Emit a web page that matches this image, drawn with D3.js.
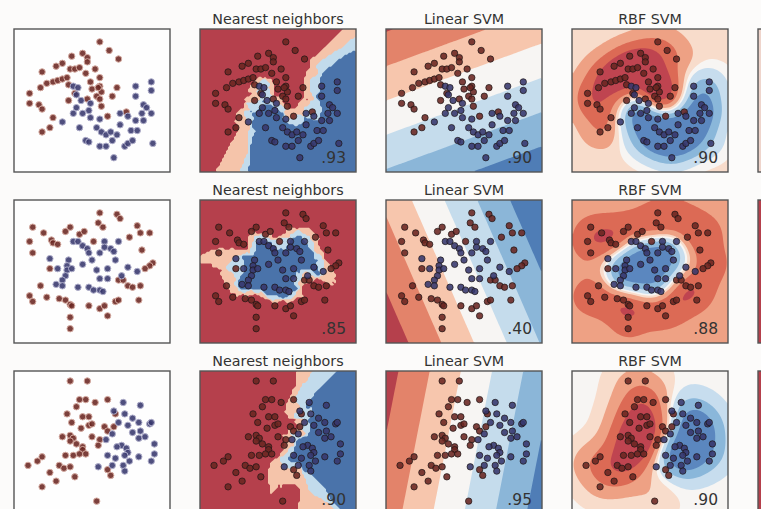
<!DOCTYPE html>
<html>
<head>
<meta charset="utf-8">
<script src="https://cdn.jsdelivr.net/npm/d3@7"></script>
<style>
  body { margin: 0; background: #fcfbfa; }
  svg { display: block; font-family: "DejaVu Sans", sans-serif; }
</style>
</head>
<body>
<svg width="761" height="509"></svg>
<script>
// points, unit box 0..10 (x right, y up)
const moonsRed = [[5.5,9.1],[6.1,8.5],[6.7,7.9],[4.4,8.3],[4.7,8.0],[4.7,7.7],[3.7,8.1],[3.1,7.6],[2.7,7.4],[3.6,7.2],[3.9,7.2],[4.2,7.3],[4.6,6.9],[5.2,7.2],[1.8,7.0],[5.5,6.6],[5.5,6.0],[6.6,5.9],[2.1,6.2],[2.5,6.3],[2.8,6.4],[3.1,6.5],[3.4,6.6],[5.0,5.8],[5.6,5.6],[5.3,5.3],[5.5,5.1],[5.6,4.6],[1.0,5.5],[1.0,4.8],[1.6,4.7],[1.8,4.4],[3.5,5.0],[3.9,5.5],[2.5,3.8],[2.3,3.1],[1.8,2.8],[6.0,3.9],[7.2,4.2],[6.3,5.3],[4.7,5.1],[3.5,6.1],[5.4,5.9],[1.7,5.9],[4.9,6.3]];
const moonsBlue = [[3.8,6.0],[4.1,5.9],[7.8,6.0],[8.8,6.3],[8.8,5.7],[7.8,5.3],[4.0,5.4],[4.3,5.0],[4.0,4.5],[3.8,4.1],[4.4,4.1],[4.9,4.8],[4.8,4.3],[4.9,3.8],[5.5,3.7],[4.2,3.1],[5.3,3.1],[5.6,2.8],[5.9,2.6],[6.2,2.8],[3.1,3.5],[8.3,4.7],[8.5,4.5],[8.8,4.1],[8.2,4.1],[7.3,3.9],[7.8,3.6],[7.5,2.9],[6.8,3.3],[6.6,2.6],[6.3,2.2],[4.6,2.2],[4.8,2.1],[5.5,1.8],[5.9,1.8],[7.1,1.8],[7.3,2.0],[7.6,2.2],[8.9,2.0],[6.4,1.0],[7.9,2.9],[8.3,3.6],[6.8,4.1]];

const circlesRed = [[5.5,9.1],[6.6,9.0],[6.8,8.7],[5.4,8.4],[5.7,8.1],[1.2,8.1],[1.9,7.7],[3.6,8.1],[3.3,7.8],[4.2,7.6],[4.5,7.8],[2.4,7.2],[2.5,7.0],[2.8,6.9],[1.0,7.1],[1.2,6.3],[5.1,7.1],[7.4,7.4],[7.9,8.2],[8.1,7.7],[8.7,7.7],[8.2,6.5],[8.9,5.6],[8.7,5.4],[8.4,5.2],[2.3,5.2],[6.7,4.4],[7.0,4.4],[7.3,4.0],[7.6,3.9],[8.1,4.0],[1.7,4.0],[1.0,3.3],[1.2,2.9],[2.1,3.2],[2.9,3.1],[3.3,3.0],[3.6,2.7],[3.7,2.6],[4.8,2.6],[5.5,2.4],[5.8,2.6],[6.5,2.9],[6.7,3.0],[6.0,1.9],[8.0,3.0],[3.6,1.8],[3.6,1.0]];
const circlesBlue = [[3.8,7.1],[4.1,7.1],[4.4,6.8],[4.7,6.6],[4.8,6.3],[5.8,7.1],[5.8,6.7],[6.2,6.6],[6.4,6.4],[6.7,7.1],[5.5,6.3],[2.3,5.9],[3.5,5.8],[3.4,5.4],[3.4,5.1],[3.3,4.7],[3.1,4.4],[2.8,5.2],[3.7,5.2],[2.7,4.1],[3.1,4.0],[4.1,3.9],[5.0,5.8],[5.3,5.1],[6.0,5.2],[5.5,4.5],[4.8,3.9],[5.1,3.7],[5.5,3.7],[5.7,3.6],[6.9,4.7],[7.3,5.3],[7.9,5.0],[6.0,4.5],[6.5,5.8],[4.4,5.5]];

const linearRed = [[3.6,9.3],[4.7,9.3],[4.2,8.0],[4.6,8.0],[6.0,8.0],[5.2,7.8],[4.0,7.5],[3.4,7.0],[4.4,6.8],[4.8,6.8],[3.7,6.4],[4.3,6.0],[4.8,6.2],[5.0,6.3],[5.8,6.1],[6.0,5.8],[6.4,6.1],[6.5,7.0],[3.1,5.4],[3.6,5.5],[3.8,5.3],[3.6,5.1],[4.0,4.9],[5.0,5.4],[5.5,5.2],[5.4,4.8],[4.4,4.7],[4.4,4.5],[4.2,4.2],[3.8,4.1],[3.3,4.1],[4.6,4.2],[1.8,4.0],[1.5,3.7],[0.9,3.4],[2.9,3.4],[3.2,3.2],[3.6,3.3],[2.3,2.9],[2.7,2.3],[1.8,1.9],[3.9,2.6],[5.3,0.9],[6.0,3.1],[6.2,2.7]];
const linearBlue = [[7.0,7.8],[8.1,7.6],[6.4,7.2],[7.1,7.0],[7.6,6.7],[6.7,6.4],[7.3,6.2],[8.0,6.4],[8.7,6.3],[8.8,6.4],[7.6,5.7],[8.1,5.8],[8.0,5.3],[8.4,5.4],[6.3,5.6],[5.9,5.2],[6.9,4.8],[7.2,4.6],[6.6,4.7],[7.3,4.3],[9.0,4.9],[9.0,4.2],[8.8,3.7],[8.0,4.0],[6.0,4.1],[6.5,3.9],[7.1,4.1],[5.4,3.3],[7.0,3.4],[7.1,3.0],[6.3,3.4],[7.4,3.7]];

const titles = ["", "Nearest neighbors", "Linear SVM", "RBF SVM"];
// scores per row: nearest neighbors, linear svm, rbf svm
const scores = [[".93", ".90", ".90"], [".85", ".40", ".88"], [".90", ".95", ".90"]];
// linear svm: decision = a*x + b*y + c, and band step
const linearCoef = [[0.4, -1, 3.8], [1, 0.4, -6.7], [1, -0.18, -4.0]];
const linearStep = [2.4, 2.1, 2.0];
// rbf svm
const rbfGamma = [0.6, 0.55, 0.5];
const rbfWeight = [0.55, 0.5, 0.4];
const rbfBias = [-0.25, -0.9, 0.0];
const rbfLevels = [-3.0, -1.6, -0.6, -0.1, 0.3, 1.2, 2.4];
// sliver of the next (cut off) column
const nextFill = ["#efd5cc", "#b5404c", "#b5404c"];

const nnColors = ["#b5404c", "#f5c4aa", "#c2dbec", "#4a73aa"];
const linColors = ["#b5404c", "#e3836a", "#f7c6ad", "#f7f5f3", "#c5dcec", "#8bb6d8", "#4f7db6"];
const rbfColors = ["#bf4450", "#dc6a55", "#eea184", "#f8dccb", "#f7f5f3", "#c7ddee", "#8ab7da", "#5b87bf"];

const datasets = [[moonsRed, moonsBlue], [circlesRed, circlesBlue], [linearRed, linearBlue]];

const svg = d3.select("svg");
const W = 156, H = 143;
const colX = [14, 200, 386, 572, 758];
const rowY = [29, 200, 371];
const NX = 78, NY = 72;

const x = d3.scaleLinear().domain([0, 10]).range([0, W]);
const y = d3.scaleLinear().domain([0, 10]).range([H, 0]);

const proj = d3.geoTransform({
  point(px, py) { this.stream.point(px * W / NX, py * H / NY); }
});
const path = d3.geoPath(proj);

function grid(fn) {
  const v = new Float64Array(NX * NY);
  for (let j = 0; j < NY; j++) {
    for (let i = 0; i < NX; i++) {
      v[j * NX + i] = fn(x.invert((i + 0.5) * W / NX), y.invert((j + 0.5) * H / NY));
    }
  }
  return v;
}

function bands(g, values, thresholds, colors) {
  g.append("rect").attr("width", W).attr("height", H).attr("fill", colors[0]);
  g.selectAll("path.band")
    .data(d3.contours().size([NX, NY]).thresholds(thresholds)(values))
    .join("path")
    .attr("class", "band")
    .attr("d", path)
    .attr("fill", (d, i) => colors[i + 1]);
}

svg.append("defs").append("clipPath").attr("id", "clip")
  .append("rect").attr("width", W).attr("height", H);

datasets.forEach(([red, blue], r) => {
  const pts = red.map(p => [p[0], p[1], 0]).concat(blue.map(p => [p[0], p[1], 1]));

  const knn = (px, py) => {
    const d = pts.map(p => [(p[0] - px) ** 2 + (p[1] - py) ** 2, p[2]])
      .sort((a, b) => a[0] - b[0]);
    return d3.mean(d.slice(0, 3), e => e[1]);
  };
  const [a, b, c] = linearCoef[r];
  const lin = (px, py) => a * px + b * py + c;
  const rbf = (px, py) => rbfBias[r] + rbfWeight[r] * d3.sum(pts, p =>
    (p[2] ? 1 : -1) * Math.exp(-rbfGamma[r] * ((p[0] - px) ** 2 + (p[1] - py) ** 2)));

  const s = linearStep[r];
  const surfaces = [
    null,
    g => bands(g, grid(knn), [1 / 6, 1 / 2, 5 / 6], nnColors),
    g => bands(g, grid(lin), [-2.5 * s, -1.5 * s, -0.5 * s, 0.5 * s, 1.5 * s, 2.5 * s], linColors),
    g => bands(g, grid(rbf), rbfLevels, rbfColors)
  ];

  surfaces.forEach((draw, col) => {
    const g = svg.append("g").attr("transform", `translate(${colX[col]},${rowY[r]})`);
    const inner = g.append("g").attr("clip-path", "url(#clip)");
    if (draw) draw(inner);
    else inner.append("rect").attr("width", W).attr("height", H).attr("fill", "#fefefe");

    inner.selectAll("circle")
      .data(pts)
      .join("circle")
      .attr("cx", d => x(d[0]))
      .attr("cy", d => y(d[1]))
      .attr("r", 3.2)
      .attr("fill", d => d[2] ? "#37376c" : "#6a2621")
      .attr("fill-opacity", 0.88)
      .attr("stroke", d => col === 0 ? (d[2] ? "#b0afcb" : "#d6aca2") : "#1c1515")
      .attr("stroke-width", col === 0 ? 1 : 0.7);

    g.append("rect")
      .attr("width", W).attr("height", H)
      .attr("fill", "none")
      .attr("stroke", "#555")
      .attr("stroke-width", 1.4);

    if (titles[col]) {
      g.append("text")
        .attr("x", W / 2).attr("y", -5.5)
        .attr("text-anchor", "middle")
        .attr("font-size", 14.3)
        .attr("fill", "#333")
        .text(titles[col]);
      g.append("text")
        .attr("x", W - 10).attr("y", H - 9)
        .attr("text-anchor", "end")
        .attr("font-size", 15.5)
        .attr("fill", "#333")
        .text(scores[r][col - 1]);
    }
  });

  // the next column, almost entirely outside the picture
  svg.append("rect")
    .attr("x", colX[4]).attr("y", rowY[r])
    .attr("width", W).attr("height", H)
    .attr("fill", nextFill[r])
    .attr("stroke", "#555")
    .attr("stroke-width", 1.4);
});
</script>
</body>
</html>
